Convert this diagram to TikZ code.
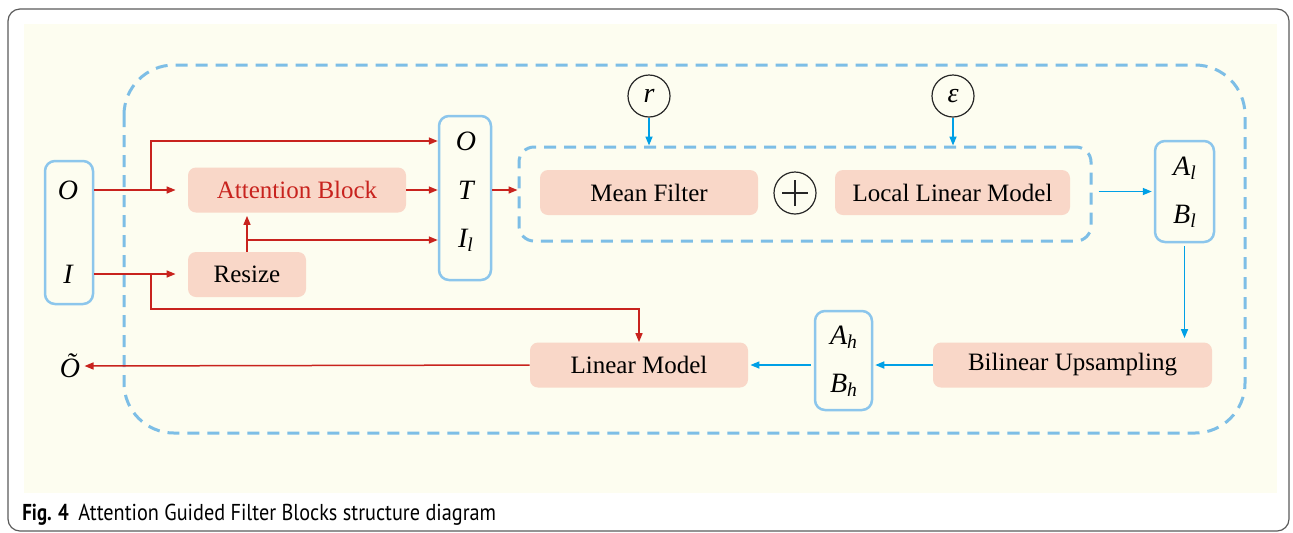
\documentclass[tikz,border=0pt]{standalone}
\usepackage{fontspec}
\setmainfont{Liberation Serif}
\newfontfamily\capfont{PT Sans}
\usetikzlibrary{arrows.meta}
\definecolor{cream}{RGB}{253,253,240}
\definecolor{boxpink}{RGB}{249,215,200}
\definecolor{redline}{RGB}{200,35,30}
\definecolor{dashblue}{RGB}{125,190,230}
\definecolor{edgeblue}{RGB}{140,198,236}
\definecolor{arrblue}{RGB}{0,160,230}
\definecolor{framegray}{RGB}{90,90,90}
\newcommand{\lsub}[1]{\textsubscript{\itshape #1}}
\begin{document}
\begin{tikzpicture}[x=0.5pt,y=-0.5pt,
 pinkbox/.style={fill=boxpink, rounded corners=4pt, inner sep=0pt, minimum height=22.5pt, font=\fontsize{12.5}{14}\selectfont},
 varbox/.style={draw=edgeblue, line width=1.25pt, rounded corners=5pt, inner sep=0pt, fill=cream},
 varlabel/.style={font=\fontsize{14}{16}\selectfont\itshape, inner sep=0pt},
 redarr/.style={draw=redline, line width=0.75pt, -{Triangle[length=4.5pt,width=3.5pt]}},
 bluearr/.style={draw=arrblue, line width=0.8pt, -{Triangle[length=4.5pt,width=3.5pt]}},
 dashframe/.style={draw=dashblue, line width=1.5pt, dash pattern=on 6pt off 4pt},
 param/.style={circle, draw=black!85, line width=0.6pt, minimum size=21pt, inner sep=0pt, font=\fontsize{14}{16}\selectfont\itshape}
]
\useasboundingbox (0,0) rectangle (1293,532);
% frame and background
\draw[framegray, line width=0.6pt, rounded corners=6pt] (8,9) rectangle (1289,531);
\fill[cream] (24,24) rectangle (1277,493);
\draw[dashframe, rounded corners=25pt] (124,65) rectangle (1245,433);

% input box
\node[varbox, minimum width=24pt, minimum height=71.5pt] (inbox) at (69,232.5) {};
\node[varlabel] (O) at (68,190) {O};
\node[varlabel] (I) at (68,274) {I};

% attention & resize
\node[pinkbox, minimum width=109pt, text=redline] (att) at (297,190) {Attention Block};
\node[pinkbox, minimum width=59pt] (resize) at (247,274.5) {Resize};

% OTI box
\node[varbox, minimum width=26pt, minimum height=82pt] (oti) at (465,198) {};
\node[varlabel] (oO) at (466,141) {O};
\node[varlabel] (oT) at (466,190) {T};
\node[varlabel] (oI) at (466,240) {I\lsub{l}};

% inner dashed
\node[dashframe, rounded corners=7.5pt, minimum width=286pt, minimum height=47pt, inner sep=0pt] (inner) at (805,194) {};
\node[pinkbox, minimum width=109pt] (mean) at (649,192.5) {Mean Filter};
\node[circle, draw=black!85, line width=0.6pt, minimum size=21pt, inner sep=0pt] (plus) at (795,193) {};
\draw[black!85, line width=0.6pt] ([xshift=-6.5pt]plus.center) -- ([xshift=6.5pt]plus.center);
\draw[black!85, line width=0.6pt] ([yshift=-6.5pt]plus.center) -- ([yshift=6.5pt]plus.center);
\node[pinkbox, minimum width=117.5pt] (llm) at (952.5,192.5) {Local Linear Model};

% parameters
\node[param] (r) at (649,96) {r};
\node[param] (eps) at (953,96) {ε};

% Al Bl
\node[varbox, minimum width=29.5pt, minimum height=50.5pt] (albl) at (1184.5,191.5) {};
\node[varlabel] (Al) at (1185,168) {A\lsub{l}};
\node[varlabel] (Bl) at (1185,216) {B\lsub{l}};

% lower row
\node[pinkbox, minimum width=139.5pt] (bil) at (1072.5,365) {Bilinear Upsampling};
\node[varbox, minimum width=28.5pt, minimum height=49.5pt] (ahbh) at (843.5,360.5) {};
\node[varlabel] (Ah) at (844,337) {A\lsub{h}};
\node[varlabel] (Bh) at (844,385) {B\lsub{h}};
\node[pinkbox, minimum width=109pt] (lin) at (639,365) {Linear Model};
\node[varlabel] (Oout) at (70,366) {Õ};

% red connectors
\coordinate (b1) at (151,190);
\coordinate (b2) at (151,274);
\coordinate (b3) at (247,240);
\coordinate (c3) at (639,309);
\draw[redarr, shorten >=6pt] (inbox.east |- O) -- (att.west);
\draw[redarr] (b1) |- (oti.west |- oO);
\draw[redarr] (att.east) -- (oti.west |- att);
\draw[redarr, shorten >=6pt] (inbox.east |- I) -- (resize.west |- I);
\draw[redarr] (b2) |- (c3) -- (lin.north);
\draw[redarr, shorten >=1.5pt] (resize.north) -- (resize.north |- att.south);
\draw[redarr] (b3) -- (oti.west |- oI);
\draw[redarr] (oti.east |- oT) -- (inner.west |- oT);
\draw[redarr, shorten >=2pt] (lin.west) -- (Oout.east);

% blue connectors
\draw[bluearr] (r.south) -- (r.south |- inner.north);
\draw[bluearr] (eps.south) -- (eps.south |- inner.north);
\draw[bluearr, shorten <=3pt, shorten >=1pt] (inner.east |- albl) -- (albl.west);
\draw[bluearr, shorten <=1.5pt, shorten >=2pt] (albl.south) -- (albl.south |- bil.north);
\draw[bluearr, shorten >=1pt] (bil.west) -- (ahbh.east |- bil);
\draw[bluearr, shorten <=1.5pt, shorten >=1pt] (ahbh.west |- lin) -- (lin.east);

% caption
\node[anchor=base west, inner sep=0pt, font=\capfont\bfseries\fontsize{11.5}{13}\selectfont] (fig) at (22,520) {\scalebox{0.82}[1]{Fig. 4}};
\node[anchor=base west, inner sep=0pt, font=\capfont\fontsize{11.5}{13}\selectfont] (cap) at (78,520) {\scalebox{0.88}[1]{Attention Guided Filter Blocks structure diagram}};
\end{tikzpicture}
\end{document}
